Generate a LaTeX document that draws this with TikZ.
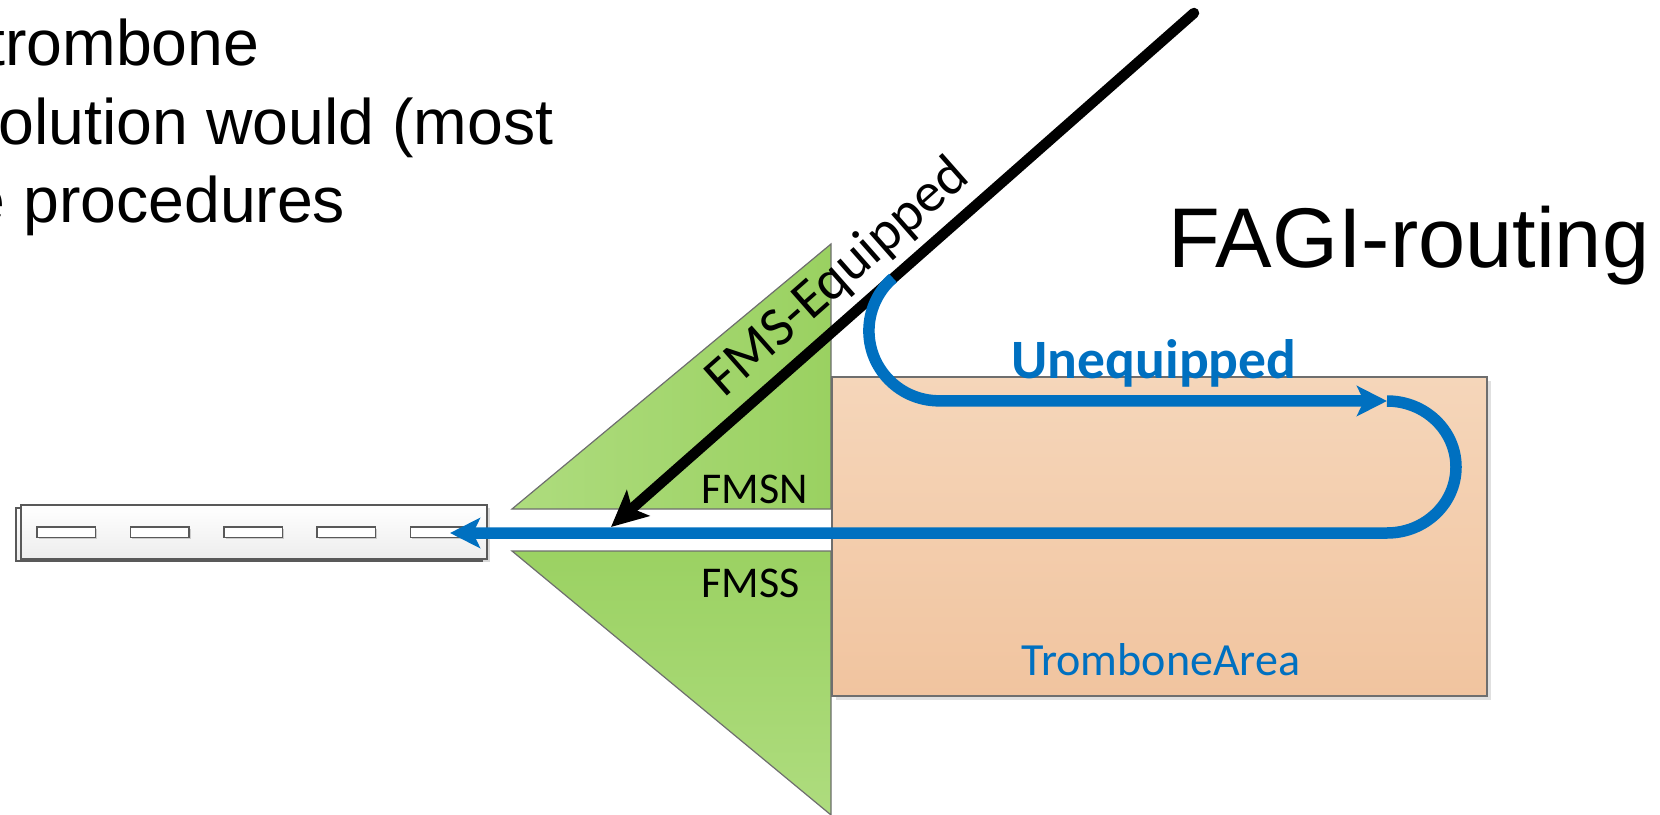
\documentclass[tikz,border=0pt]{standalone}
\usepackage{fontspec}
\setmainfont{Liberation Sans}
\newfontfamily\calibri{Carlito}
\usetikzlibrary{arrows.meta,calc}
\definecolor{ublue}{HTML}{0070C0}
\definecolor{grnA}{HTML}{AEDC7E}
\definecolor{grnB}{HTML}{9AD161}
\definecolor{peachT}{HTML}{F5D6BA}
\definecolor{peachB}{HTML}{F1C49F}
\definecolor{edgegrey}{HTML}{6E6E6E}
\tikzset{
  trishape/.style={draw=edgegrey, line width=0.012cm},
  tapebox/.style={draw=black!65, line width=0.012cm, top color=white, bottom color=black!7},
  slotbox/.style={draw=black!65, line width=0.012cm, fill=white},
  blueline/.style={draw=ublue, line width=0.115cm},
  bluehead/.style={-{Stealth[length=0.3cm,width=0.3cm,inset=0.07cm]}},
  blackhead/.style={-{Stealth[length=0.36cm,width=0.34cm,inset=0.08cm]}},
  slidetext/.style={font=\fontsize{18.3pt}{20pt}\selectfont, inner sep=0pt, anchor=base east},
  lbl/.style={font=\calibri\fontsize{12.5pt}{14pt}\selectfont, inner sep=0pt, anchor=base west},
}
\begin{document}
\begin{tikzpicture}[x=0.01cm,y=-0.01cm]
\useasboundingbox (0,0) rectangle (1660,815);
\clip (0,0) rectangle (1660,815);

% slide text (clipped at left)
\node[slidetext] (t1) at (260,65) {trombone};
\node[slidetext] (t2) at (554,144) {olution would (most};
\node[slidetext] (t3) at (346,222) {e procedures};
\node[font=\fontsize{24.1pt}{26pt}\selectfont, inner sep=0pt, anchor=base west] (fagi) at (1168,267) {FAGI-routing};

% green triangles
\path[trishape, left color=grnA, right color=grnB] (831,244) -- (512,509) -- (831,509) -- cycle;
\path[trishape, top color=grnB!95!grnA, bottom color=grnA] (512,551) -- (831,551) -- (831,815) -- cycle;

% trombone area
\fill[black!12] (836,381) rectangle (1491,700);
\path[draw=edgegrey, line width=0.012cm, top color=peachT, bottom color=peachB] (832,377) rectangle (1487,696);

% runway (tape)
\fill[black!15] (24,508) rectangle (490,562);
\path[tapebox] (16,508) rectangle (482,561);
\path[tapebox] (21,505) rectangle (487,559);
\foreach \sx in {37,130.5,224,317,410.5} {
  \fill[black!20] (\sx+1.5,528.5) rectangle ++(58.5,10.5);
  \path[slotbox] (\sx,527) rectangle ++(58.5,10.5);
}

% labels in triangles
\node[lbl] (fmsn) at (701,503) {FMSN};
\node[lbl] (fmss) at (701,597) {FMSS};

% FMS-Equipped route
\coordinate (eqtop) at (1194,13);
\coordinate (eqtip) at (611,527);
\draw[line width=0.105cm, line cap=round, blackhead] (eqtop) -- (eqtip);
\node[font=\calibri\fontsize{15.9pt}{18pt}\selectfont, inner sep=0pt, rotate=41.4] (eqlbl) at (838,278) {FMS-Equipped};

% Unequipped route
\coordinate (ustart) at (893,278);
\coordinate (utip) at (1387,401);
\coordinate (rwyend) at (450,533);
\draw[blueline, bluehead] (ustart) arc[start angle=229, end angle=90, radius=70] -- (utip);
\draw[blueline, bluehead] (utip) arc[start angle=-90, end angle=90, x radius=69, y radius=66] -- (rwyend);

\node[font=\calibri\bfseries\fontsize{15.8pt}{18pt}\selectfont, text=ublue, inner sep=0pt, anchor=base west] (uneq) at (1011,378) {Unequipped};
\node[font=\calibri\fontsize{13.1pt}{15pt}\selectfont, text=ublue, inner sep=0pt, anchor=base west] (tarea) at (1021,675) {TromboneArea};
\end{tikzpicture}
\end{document}
